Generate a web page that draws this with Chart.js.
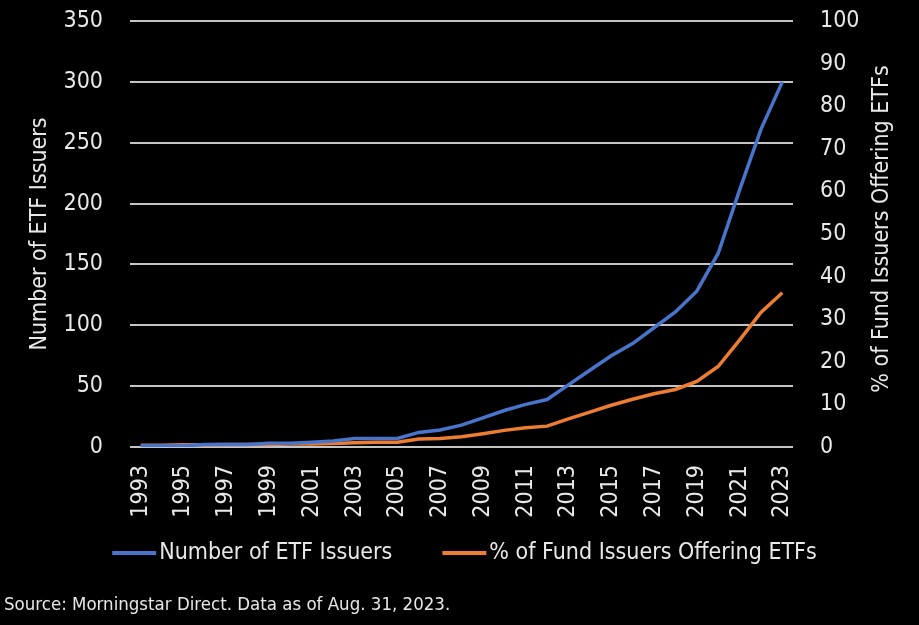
<!DOCTYPE html>
<html>
<head>
<meta charset="utf-8">
<script src="https://cdn.jsdelivr.net/npm/chart.js@4.4.1/dist/chart.umd.min.js"></script>
<style>
  html, body { margin: 0; padding: 0; background: #000; }
  #wrap { width: 919px; height: 625px; }
</style>
</head>
<body>
<div id="wrap"><canvas id="c" width="919" height="625"></canvas></div>
<script>
const years = ['1993','1994','1995','1996','1997','1998','1999','2000','2001','2002','2003','2004','2005','2006','2007','2008','2009','2010','2011','2012','2013','2014','2015','2016','2017','2018','2019','2020','2021','2022','2023'];
const etfIssuers = [1, 1, 1, 2, 2, 2, 3, 3, 4, 5, 7, 7, 7, 12, 14, 18, 24, 30, 35, 39, 51, 63, 75, 85, 98, 111, 128, 159, 211, 261, 300];
const pctOffering = [0.4, 0.4, 0.5, 0.5, 0.6, 0.6, 0.6, 0.7, 0.7, 0.8, 1.0, 1.1, 1.1, 1.9, 2.0, 2.4, 3.1, 3.9, 4.5, 4.9, 6.6, 8.2, 9.8, 11.2, 12.5, 13.5, 15.4, 18.9, 25.1, 31.6, 36.2];
const leftTitle = 'Number of ETF Issuers';
const rightTitle = '% of Fund Issuers Offering ETFs';
const seriesNames = ['Number of ETF Issuers', '% of Fund Issuers Offering ETFs'];
const sourceText = 'Source: Morningstar Direct. Data as of Aug. 31, 2023.';

const FONT = "'DejaVu Sans Condensed', 'Liberation Sans Narrow', sans-serif";
const TXT = '#e8e8e8';
const FS = 23;

const bgPlugin = {
  id: 'bg',
  beforeDraw(chart) {
    const ctx = chart.ctx;
    ctx.save();
    ctx.fillStyle = '#000';
    ctx.fillRect(0, 0, chart.width, chart.height);
    ctx.restore();
  }
};

const extrasPlugin = {
  id: 'extras',
  afterDraw(chart) {
    const ctx = chart.ctx;
    ctx.save();
    // right axis title (reads bottom-to-top)
    ctx.translate(882, 229);
    ctx.rotate(-Math.PI / 2);
    ctx.fillStyle = TXT;
    ctx.font = FS + 'px ' + FONT;
    ctx.textAlign = 'center';
    ctx.textBaseline = 'middle';
    ctx.fillText(rightTitle, 0, 0);
    ctx.restore();

    // legend
    ctx.save();
    ctx.font = FS + 'px ' + FONT;
    ctx.textBaseline = 'middle';
    ctx.textAlign = 'left';
    const boxW = 44, gapText = 3, gapItems = 50, ly = 553;
    const ds = chart.data.datasets;
    const widths = ds.map(d => boxW + gapText + ctx.measureText(d.label).width);
    const total = widths.reduce((a, b) => a + b, 0) + gapItems * (ds.length - 1);
    let x = (chart.width - total) / 2 + 5;
    ds.forEach((d, i) => {
      ctx.strokeStyle = d.borderColor;
      ctx.lineWidth = 4;
      ctx.beginPath();
      ctx.moveTo(x, ly);
      ctx.lineTo(x + boxW, ly);
      ctx.stroke();
      ctx.fillStyle = TXT;
      ctx.fillText(d.label, x + boxW + gapText, ly);
      x += widths[i] + gapItems;
    });
    ctx.restore();

    // source note
    ctx.save();
    ctx.font = '18.5px ' + FONT;
    ctx.fillStyle = TXT;
    ctx.textAlign = 'left';
    ctx.textBaseline = 'middle';
    ctx.fillText(sourceText, 4, 605);
    ctx.restore();
  }
};

new Chart(document.getElementById('c'), {
  type: 'line',
  data: {
    labels: years,
    datasets: [
      { label: seriesNames[0], data: etfIssuers, yAxisID: 'y', borderColor: '#4874CC', backgroundColor: '#4874CC', borderWidth: 3.5, pointRadius: 0, tension: 0 },
      { label: seriesNames[1], data: pctOffering, yAxisID: 'y1', borderColor: '#ED7D31', backgroundColor: '#ED7D31', borderWidth: 3.5, pointRadius: 0, tension: 0 }
    ]
  },
  options: {
    responsive: false,
    animation: false,
    devicePixelRatio: 1,
    layout: { padding: { top: 21, left: 0, right: 0, bottom: 71 } },
    plugins: {
      legend: { display: false },
      title: { display: false },
      tooltip: { enabled: false }
    },
    scales: {
      x: {
        offset: true,
        grid: { display: false, drawTicks: false },
        border: { display: false },
        ticks: {
          color: TXT, font: { family: FONT, size: FS }, autoSkip: false, maxRotation: 90, minRotation: 90, padding: 18,
          callback: function(v, i) { return i % 2 === 0 ? years[i] : ''; }
        },
        afterFit(s) { s.height = 107; s.paddingTop = 0; s.paddingBottom = 0; }
      },
      y: {
        position: 'left', min: 0, max: 350,
        ticks: { stepSize: 50, color: TXT, font: { family: FONT, size: FS }, padding: 27 },
        grid: { color: '#c4c4c4', lineWidth: 2, drawTicks: false },
        border: { display: false },
        title: { display: true, text: leftTitle, color: TXT, font: { family: FONT, size: FS }, padding: { top: 26, bottom: 0 } },
        afterFit(s) { s.width = 130; s.paddingTop = 0; s.paddingBottom = 0; }
      },
      y1: {
        position: 'right', min: 0, max: 100,
        ticks: { stepSize: 10, color: TXT, font: { family: FONT, size: FS }, padding: 27 },
        grid: { display: false, drawTicks: false },
        border: { display: false },
        afterFit(s) { s.width = 126; s.paddingTop = 0; s.paddingBottom = 0; }
      }
    }
  },
  plugins: [bgPlugin, extrasPlugin]
});
</script>
</body>
</html>
